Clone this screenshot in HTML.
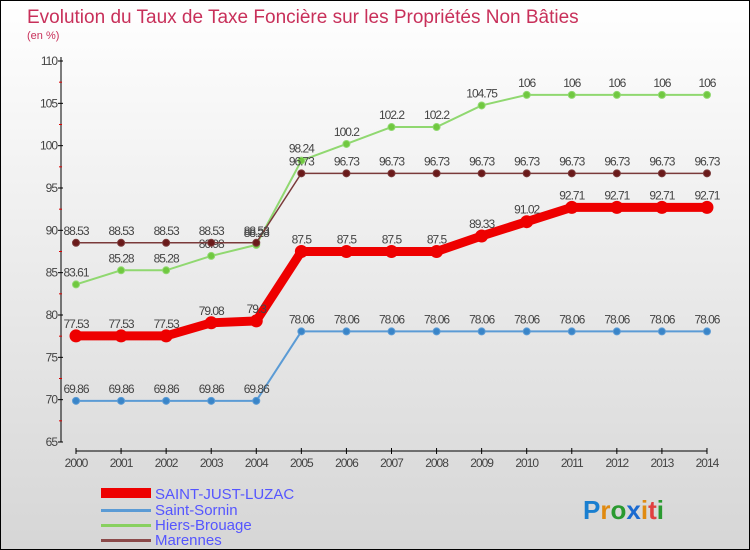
<!DOCTYPE html>
<html><head><meta charset="utf-8"><style>
body{margin:0}
#c{width:750px;height:550px;position:relative;box-sizing:border-box;border:1px solid #000;background:linear-gradient(#ffffff,#d6d6d6);font-family:"Liberation Sans",sans-serif;overflow:hidden}
</style></head><body>
<div id="c">
<svg id="s" width="748" height="548" style="position:absolute;left:0;top:0">
<text x="26" y="22" font-size="19" fill="#c8305a">Evolution du Taux de Taxe Foncière sur les Propriétés Non Bâties</text>
<text x="26" y="38" font-size="11" fill="#c8305a">(en %)</text>
<g id="axes"></g><g id="series"></g>
<g>
<rect x="100" y="487" width="50" height="10" fill="#e00"/>
<text x="154" y="498" font-size="15" fill="#5555ff">SAINT-JUST-LUZAC</text>
<rect x="100" y="508" width="50" height="3" fill="#5b9bd5"/>
<text x="154" y="514" font-size="15" fill="#5555ff">Saint-Sornin</text>
<rect x="100" y="523" width="50" height="3" fill="#88d060"/>
<text x="154" y="529" font-size="15" fill="#5555ff">Hiers-Brouage</text>
<rect x="100" y="538" width="50" height="3" fill="#8b4a4a"/>
<text x="154" y="544" font-size="15" fill="#5555ff">Marennes</text>
</g>
<text x="582" y="518" font-size="26" font-weight="bold"><tspan fill="#1a7fd0">P</tspan><tspan fill="#e08a10">r</tspan><tspan fill="#2a9a30">o</tspan><tspan fill="#1a6ad0">x</tspan><tspan fill="#e08a10">i</tspan><tspan fill="#e04040">t</tspan><tspan fill="#2a9a30">i</tspan></text>
</svg>
</div>
<script>
const years=[2000,2001,2002,2003,2004,2005,2006,2007,2008,2009,2010,2011,2012,2013,2014];
const yTicks=[65,70,75,80,85,90,95,100,105,110];
const sjl=[77.53,77.53,77.53,79.08,79.3,87.5,87.5,87.5,87.5,89.33,91.02,92.71,92.71,92.71,92.71];
const sornin=[69.86,69.86,69.86,69.86,69.86,78.06,78.06,78.06,78.06,78.06,78.06,78.06,78.06,78.06,78.06];
const hiers=[83.61,85.28,85.28,86.98,88.28,98.24,100.2,102.2,102.2,104.75,106,106,106,106,106];
const marennes=[88.53,88.53,88.53,88.53,88.53,96.73,96.73,96.73,96.73,96.73,96.73,96.73,96.73,96.73,96.73];
const NS="http://www.w3.org/2000/svg";
const X=i=>75+i*45.07, Y=v=>441-(v-65)*(381/45);
function mk(t,a,p){const e=document.createElementNS(NS,t);for(const k in a)e.setAttribute(k,a[k]);p.appendChild(e);return e;}
const ax=document.getElementById('axes'), se=document.getElementById('series');
let l=mk('line',{x1:60,y1:56,x2:60,y2:441,stroke:'#000'},ax);


l=mk('line',{x1:75,y1:450,x2:706,y2:450,stroke:'#000'},ax);


yTicks.forEach(v=>{mk('line',{x1:57,x2:62,y1:Y(v),y2:Y(v),stroke:'#000'},ax);
if(v<110)mk('line',{x1:58,x2:61,y1:Y(v+2.5),y2:Y(v+2.5),stroke:'#d00'},ax);
const t=mk('text',{x:56,y:Y(v)+4,'font-size':12,fill:'#444','text-anchor':'end','letter-spacing':'-1'},ax);t.textContent=v;

});
years.forEach((y,i)=>{mk('line',{x1:X(i),x2:X(i),y1:447,y2:453,stroke:'#000'},ax);
const t=mk('text',{x:X(i),y:466,'font-size':12,fill:'#444','text-anchor':'middle','letter-spacing':'-1'},ax);t.textContent=y;

});
function draw(d,name,col,w,r,dot){const g=mk('g',{},se);


mk('polyline',{points:d.map((v,i)=>X(i)+','+Y(v)).join(' '),fill:'none',stroke:col,'stroke-width':w},g);
d.forEach((v,i)=>{const c=mk('circle',{cx:X(i),cy:Y(v),r:r,fill:dot,stroke:col,'stroke-width':1},g);


const t=mk('text',{x:X(i),y:Y(v)-8,'font-size':12,fill:'#444','text-anchor':'middle','letter-spacing':'-1'},g);t.textContent=v;

});}
draw(sornin,'saint-sornin','#5b9bd5',2,3.5,'#3a85c8');
draw(hiers,'hiers-brouage','#90d870',2,3.5,'#70c840');
draw(marennes,'marennes','#7a3a3a',1.5,3.5,'#6a1a1a');
draw(sjl,'saint-just-luzac','#ee0000',9,6,'#ee0000');
</script>
</body></html>
